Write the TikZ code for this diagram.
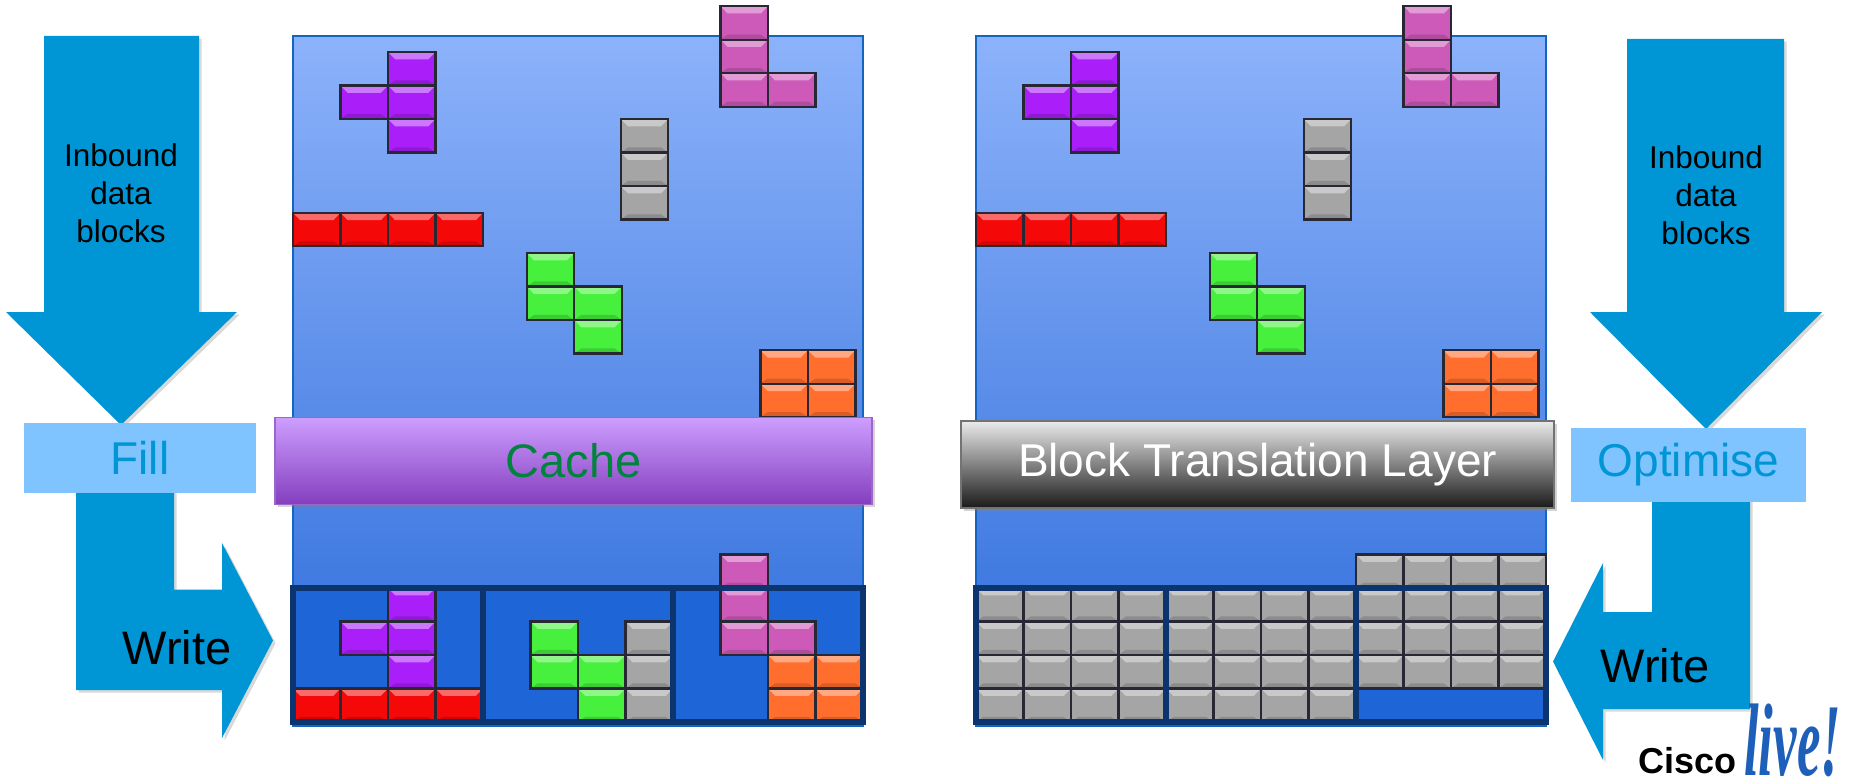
\documentclass[tikz,border=0pt]{standalone}
\usepackage{fontspec}
\setmainfont{Liberation Sans}
\newfontfamily\livefont{Liberation Serif}
\usetikzlibrary{shadows}

\definecolor{ArrowClr}{RGB}{0,150,214}
\definecolor{StepClr}{RGB}{128,196,255}
\definecolor{PanelTop}{RGB}{140,178,250}
\definecolor{PanelBot}{RGB}{45,108,218}
\definecolor{PanelLine}{RGB}{20,100,195}
\definecolor{BinClr}{RGB}{30,102,216}
\definecolor{BinLine}{RGB}{12,52,110}
\definecolor{CacheTop}{RGB}{205,158,255}
\definecolor{CacheBot}{RGB}{132,62,190}
\definecolor{CacheTxt}{RGB}{0,132,61}
\definecolor{BrickLine}{RGB}{40,40,52}
\definecolor{LiveClr}{RGB}{30,95,185}
\definecolor{tred}{RGB}{245,8,8}
\definecolor{tpurple}{RGB}{170,30,250}
\definecolor{tgray}{RGB}{165,165,165}
\definecolor{tpink}{RGB}{205,90,185}
\definecolor{tgreen}{RGB}{70,240,60}
\definecolor{torange}{RGB}{255,110,45}

% one bevelled brick, lower left corner at (col,row)
\newcommand\brick[3]{%
  \fill[#3] (#1,#2) rectangle ++(1,1);
  \fill[white,opacity=.4] (#1,#2+1) -- ++(1,0) -- ++(-.15,-.22) -- ++(-.7,0) -- cycle;
  \fill[black,opacity=.15] (#1,#2) -- ++(1,0) -- ++(-.15,.15) -- ++(-.7,0) -- cycle;
  \draw[BrickLine,line width=2.2pt] (#1,#2) rectangle ++(1,1);}

% the pieces still falling, same in both panels
\newcommand\fallingpieces{%
  \foreach \c in {0,...,3} {\brick{\c}{14.2}{tred}}
  \foreach \c/\r in {2/17,2/18,2/19,1/18} {\brick{\c}{\r}{tpurple}}
  \foreach \r in {15,16,17} {\brick{6.9}{\r}{tgray}}
  \foreach \c/\r in {9/18.37,9/19.37,9/20.37,10/18.37} {\brick{\c}{\r}{tpink}}
  \foreach \c/\r in {4.92/13,4.92/12,5.92/12,5.92/11} {\brick{\c}{\r}{tgreen}}
  \foreach \c/\r in {9.84/9.1,10.84/9.1,9.84/10.1,10.84/10.1} {\brick{\c}{\r}{torange}}}

% three storage bins along the panel floor
\newcommand\binfloor{\fill[BinClr] (0,0) rectangle (12,4);}
\newcommand\binwalls{%
  \foreach \b in {0,4,8} {\draw[BinLine,line width=6pt] (\b,0) rectangle ++(4,4);}}

\begin{document}
\begin{tikzpicture}[x=1pt,y=-1pt,
  arrowshape/.style={fill=ArrowClr,drop shadow={opacity=.3}},
  panelbox/.style={top color=PanelTop,bottom color=PanelBot,draw=PanelLine,line width=1.5pt},
  stepbox/.style={fill=StepClr,text=ArrowClr,minimum width=232pt,minimum height=70pt,
    font=\fontsize{46}{52}\selectfont},
  cachebar/.style={top color=CacheTop,bottom color=CacheBot,draw=CacheBot!80,line width=1.2pt,
    minimum width=597pt,minimum height=87pt,text=CacheTxt,font=\fontsize{47}{52}\selectfont,
    drop shadow={opacity=.35}},
  btlbar/.style={top color=black!8,middle color=black!45,bottom color=black!90,draw=black!55,
    line width=1.2pt,minimum width=593pt,minimum height=87pt,text=white,
    font=\fontsize{46}{52}\selectfont,drop shadow={opacity=.35}},
  inlabel/.style={align=center,font=\fontsize{31.5}{38}\selectfont},
  wrlabel/.style={font=\fontsize{47}{52}\selectfont}]
\useasboundingbox (0,0) rectangle (1860,784);

% panels
\shade[panelbox] (293,36) rectangle ++(570,690);
\shade[panelbox] (976,36) rectangle ++(570,690);

% left panel: cache fills the bins
\begin{scope}[shift={(293,722)},x=47.5pt,y=33.5pt]
  \fallingpieces
  \binfloor
  \foreach \c in {0,...,3} {\brick{\c}{0}{tred}}
  \foreach \c/\r in {2/1,2/2,2/3,1/2} {\brick{\c}{\r}{tpurple}}
  \foreach \c/\r in {5/2,5/1,6/1,6/0} {\brick{\c}{\r}{tgreen}}
  \foreach \r in {0,1,2} {\brick{7}{\r}{tgray}}
  \foreach \c/\r in {9/2,9/3,9/4,10/2} {\brick{\c}{\r}{tpink}}
  \foreach \c/\r in {10/0,11/0,10/1,11/1} {\brick{\c}{\r}{torange}}
  \binwalls
\end{scope}

% right panel: translation layer packs the bins
\begin{scope}[shift={(976,722)},x=47.5pt,y=33.5pt]
  \fallingpieces
  \binfloor
  \foreach \c in {0,...,7} {\foreach \r in {0,...,3} {\brick{\c}{\r}{tgray}}}
  \foreach \c in {8,...,11} {\foreach \r in {1,...,4} {\brick{\c}{\r}{tgray}}}
  \binwalls
\end{scope}

\node[cachebar] (cache) at (573.5,461) {Cache};
\node[btlbar] (btl) at (1257.5,464.5) {Block Translation Layer};

% left side arrows
\fill[arrowshape] (44,36) -- (44,312) -- (6,312) -- (121,425) -- (237,312) -- (199,312) -- (199,36) -- cycle;
\fill[arrowshape] (76,480) -- (76,690) -- (222,690) -- (222,738) -- (273,640.5) -- (222,543)
  -- (222,589.5) -- (174,589.5) -- (174,480) -- cycle;
\node[stepbox] (fillstep) at (140,458) {Fill};
\node[inlabel] (inL) at (121,193) {Inbound\\data\\blocks};
\node[wrlabel] (wrL) at (177,648) {Write};

% right side arrows
\fill[arrowshape] (1627,39) -- (1627,312) -- (1590,312) -- (1706,429) -- (1822,312) -- (1784,312) -- (1784,39) -- cycle;
\fill[arrowshape] (1750,490) -- (1750,709) -- (1603,709) -- (1603,760) -- (1553,661.5) -- (1603,563)
  -- (1603,612) -- (1652,612) -- (1652,490) -- cycle;
\node[stepbox,minimum width=235pt,minimum height=74pt] (optstep) at (1688.5,465) {Optimise};
\node[inlabel] (inR) at (1706,195) {Inbound\\data\\blocks};
\node[wrlabel] (wrR) at (1655,666) {Write};

% logo
\node[anchor=base west,inner sep=0pt,font=\fontsize{36}{38}\selectfont\bfseries] (cisco) at (1638,773) {Cisco};
\node[anchor=base west,inner sep=0pt,text=LiveClr,font=\livefont\bfseries\itshape\fontsize{60}{60}\selectfont]
  (live) at (1744,775) {\scalebox{0.88}[1.72]{live!}};
\end{tikzpicture}
\end{document}
